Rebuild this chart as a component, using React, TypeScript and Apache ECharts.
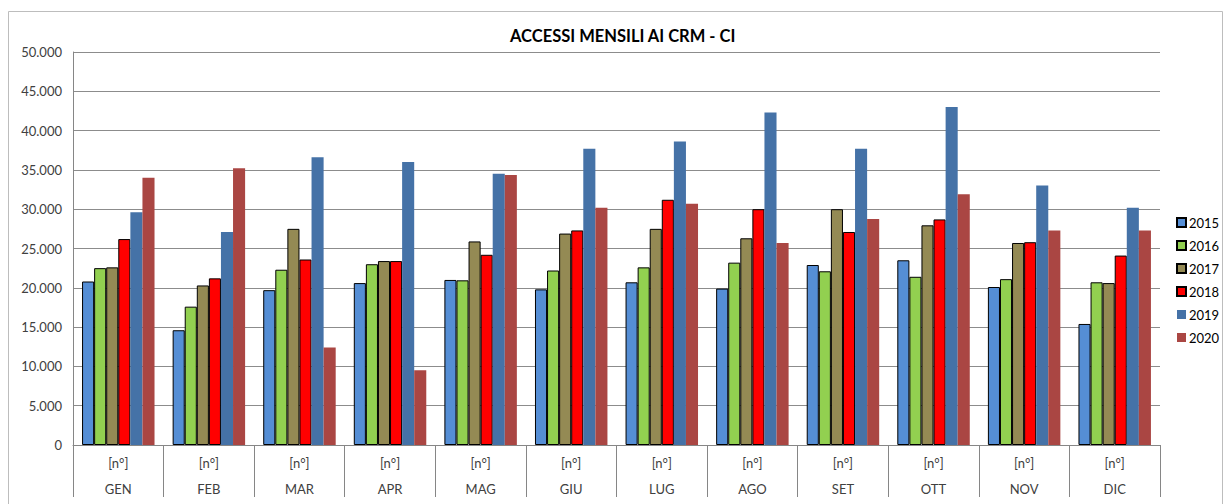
import React, { useEffect, useRef } from "react";
import * as echarts from "echarts";

const months = ["GEN", "FEB", "MAR", "APR", "MAG", "GIU", "LUG", "AGO", "SET", "OTT", "NOV", "DIC"];
const years = ["2015", "2016", "2017", "2018", "2019", "2020"];

const v2015 = [20800, 14600, 19700, 20600, 21000, 19800, 20700, 19900, 22900, 23500, 20100, 15400];
const v2016 = [22500, 17600, 22300, 23000, 20950, 22200, 22600, 23200, 22100, 21400, 21100, 20700];
const v2017 = [22600, 20300, 27500, 23400, 25900, 26900, 27500, 26300, 30000, 27950, 25700, 20600];
const v2018 = [26200, 21200, 23600, 23400, 24200, 27300, 31200, 30000, 27100, 28700, 25800, 24100];
const v2019 = [29600, 27100, 36600, 36000, 34500, 37700, 38600, 42300, 37700, 43000, 33000, 30200];
const v2020 = [34000, 35200, 12400, 9500, 34350, 30200, 30700, 25700, 28750, 31900, 27300, 27300];

const seriesValues = [v2015, v2016, v2017, v2018, v2019, v2020];
const colors = ["#558ED5", "#92D050", "#948A54", "#FF0000", "#4572A7", "#AA4643"];
const bordered = [true, true, true, true, false, false];

const FONT = "Lato, 'Open Sans', sans-serif";

export default function App() {
  const ref = useRef<HTMLDivElement>(null);
  useEffect(() => {
    if (!ref.current) return;
    const chart = echarts.init(ref.current, null, { renderer: "svg" });
    chart.setOption({
      animation: false,
      backgroundColor: "#ffffff",
      textStyle: { fontFamily: FONT },
      title: {
        text: "ACCESSI MENSILI AI CRM - CI",
        left: 505,
        top: 22,
        textStyle: { fontSize: 16.5, fontWeight: "bold", color: "#000", fontFamily: FONT },
      },
      graphic: [
        {
          type: "rect",
          shape: { x: 8.5, y: 11.5, width: 1214, height: 500 },
          style: { fill: "none", stroke: "#bdbdbd", lineWidth: 1 },
          silent: true,
          z: -1,
        },
      ],
      legend: {
        orient: "vertical",
        left: 1171,
        top: 211,
        itemWidth: 9,
        itemHeight: 9,
        itemGap: 10,
        icon: "rect",
        textStyle: { fontSize: 13, color: "#000", fontFamily: FONT, padding: [0, 0, 0, -2] },
        data: years,
      },
      grid: { left: 73, right: 64, top: 52, bottom: 59, containLabel: false },
      xAxis: {
        type: "category",
        data: months,
        axisLine: { lineStyle: { color: "#868686", width: 1 } },
        axisTick: { show: true, length: 52, interval: 0, lineStyle: { color: "#868686" } },
        axisLabel: {
          interval: 0,
          margin: 5,
          lineHeight: 26,
          fontSize: 13,
          color: "#404040",
          fontFamily: FONT,
          formatter: (v: string) => `[n°]\n${v}`,
        },
      },
      yAxis: {
        type: "value",
        min: 0,
        max: 50000,
        interval: 5000,
        axisLine: { show: true, lineStyle: { color: "#868686", width: 1 } },
        axisTick: { show: false },
        splitLine: { lineStyle: { color: "#8c8c8c", width: 1 } },
        axisLabel: {
          margin: 11,
          fontSize: 13,
          color: "#404040",
          fontFamily: FONT,
          formatter: (v: number) => (v === 0 ? "0" : v.toLocaleString("it-IT").replace(/,/g, ".")),
        },
      },
      series: years.map((y, i) => ({
        name: y,
        type: "bar",
        data: seriesValues[i],
        barGap: "0%",
        barCategoryGap: "20%",
        itemStyle: {
          color: colors[i],
          borderColor: bordered[i] ? "#000000" : colors[i],
          borderWidth: bordered[i] ? 1 : 0,
        },
      })),
    });
    return () => chart.dispose();
  }, []);
  return (
    <div
      ref={ref}
      style={{ position: "absolute", left: 0, top: 0, width: 1224, height: 504 }}
    />
  );
}
